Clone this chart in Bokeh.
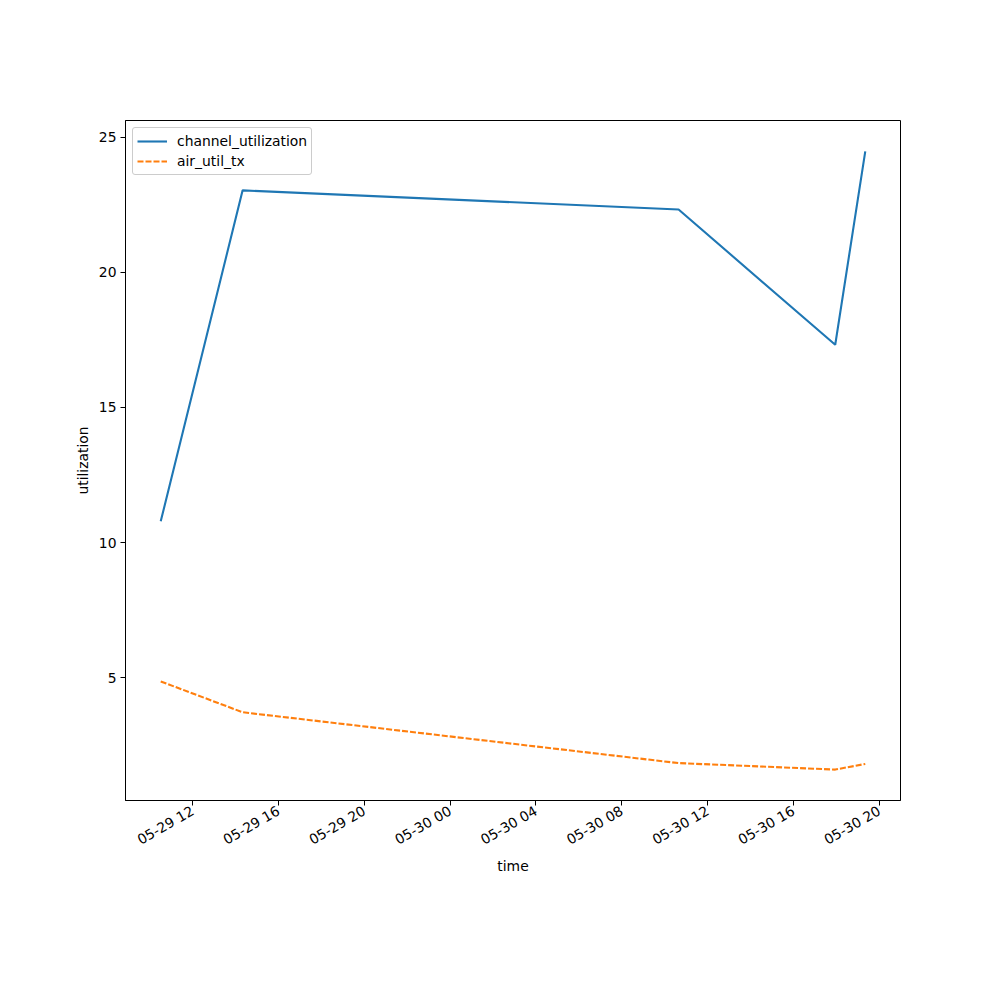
import math
from datetime import datetime
from bokeh.plotting import figure
from bokeh.models import FixedTicker, DatetimeTickFormatter, Range1d, Legend, LegendItem, ColumnDataSource
from bokeh.embed import file_html
from bokeh.resources import INLINE

times = [datetime(2024, 5, 29, 10, 31), datetime(2024, 5, 29, 14, 20),
         datetime(2024, 5, 30, 10, 39), datetime(2024, 5, 30, 17, 57),
         datetime(2024, 5, 30, 19, 21)]
channel_utilization = [10.79, 23.03, 22.32, 17.32, 24.47]
air_util_tx = [4.87, 3.73, 1.85, 1.61, 1.82]

x_ticks = [datetime(2024, 5, 29, 12), datetime(2024, 5, 29, 16), datetime(2024, 5, 29, 20),
           datetime(2024, 5, 30, 0), datetime(2024, 5, 30, 4), datetime(2024, 5, 30, 8),
           datetime(2024, 5, 30, 12), datetime(2024, 5, 30, 16), datetime(2024, 5, 30, 20)]
y_ticks = [5, 10, 15, 20, 25]

def ms(d):
    return (d - datetime(1970, 1, 1)).total_seconds() * 1000.0

src = ColumnDataSource(dict(t=times, ch=channel_utilization, air=air_util_tx))

tmin, tmax = ms(min(times)), ms(max(times))
tpad = (tmax - tmin) * 0.05
ymin = min(air_util_tx + channel_utilization)
ymax = max(air_util_tx + channel_utilization)
ypad = (ymax - ymin) * 0.05

FONT = "DejaVu Sans"
FS = "13.9px"

p = figure(x_axis_type="datetime", output_backend="svg", toolbar_location=None,
           frame_width=775, frame_height=680,
           min_border_left=125, min_border_top=120, min_border_right=70, min_border_bottom=150,
           x_range=Range1d(tmin - tpad, tmax + tpad), y_range=Range1d(ymin - ypad, ymax + ypad),
           background_fill_color="white", border_fill_color="white")

r1 = p.line("t", "ch", source=src, line_color="#1f77b4", line_width=2.1)
r2 = p.line("t", "air", source=src, line_color="#ff7f0e", line_width=2.1, line_dash="6 2")

p.xgrid.visible = False
p.ygrid.visible = False
p.outline_line_color = "black"
p.outline_line_width = 1
p.outline_line_alpha = 1

p.xaxis.ticker = FixedTicker(ticks=[ms(d) for d in x_ticks])
p.xaxis.formatter = DatetimeTickFormatter(hours="%m-%d %H", days="%m-%d %H", months="%m-%d %H",
                                          hourmin="%m-%d %H", minutes="%m-%d %H")
p.xaxis.major_label_orientation = math.pi / 6
p.yaxis.ticker = FixedTicker(ticks=y_ticks)

for ax in (p.xaxis[0], p.yaxis[0]):
    ax.major_tick_in = 0
    ax.major_tick_out = 5
    ax.minor_tick_in = 0
    ax.minor_tick_out = 0
    ax.axis_line_color = "black"
    ax.major_tick_line_color = "black"
    ax.major_label_text_font = FONT
    ax.major_label_text_font_size = FS
    ax.major_label_text_color = "black"
    ax.axis_label_text_font = FONT
    ax.axis_label_text_font_size = FS
    ax.axis_label_text_font_style = "normal"
    ax.axis_label_text_color = "black"

p.xaxis.axis_label = "time"
p.yaxis.axis_label = "utilization"
p.xaxis.major_label_standoff = 4
p.yaxis.major_label_standoff = 4
p.xaxis.axis_label_standoff = 0

legend = Legend(items=[LegendItem(label="channel_utilization", renderers=[r1]),
                       LegendItem(label="air_util_tx", renderers=[r2])],
                location="top_left")
legend.label_text_font = FONT
legend.label_text_font_size = FS
legend.label_text_color = "black"
legend.border_line_color = "#cccccc"
legend.border_line_alpha = 1
legend.border_radius = 3
legend.glyph_width = 30
legend.glyph_height = 14
legend.label_standoff = 10
legend.spacing = 2
legend.padding = 4
legend.margin = 7
legend.label_height = 18
p.add_layout(legend)

open("out.html", "w").write(file_html(p, INLINE))
